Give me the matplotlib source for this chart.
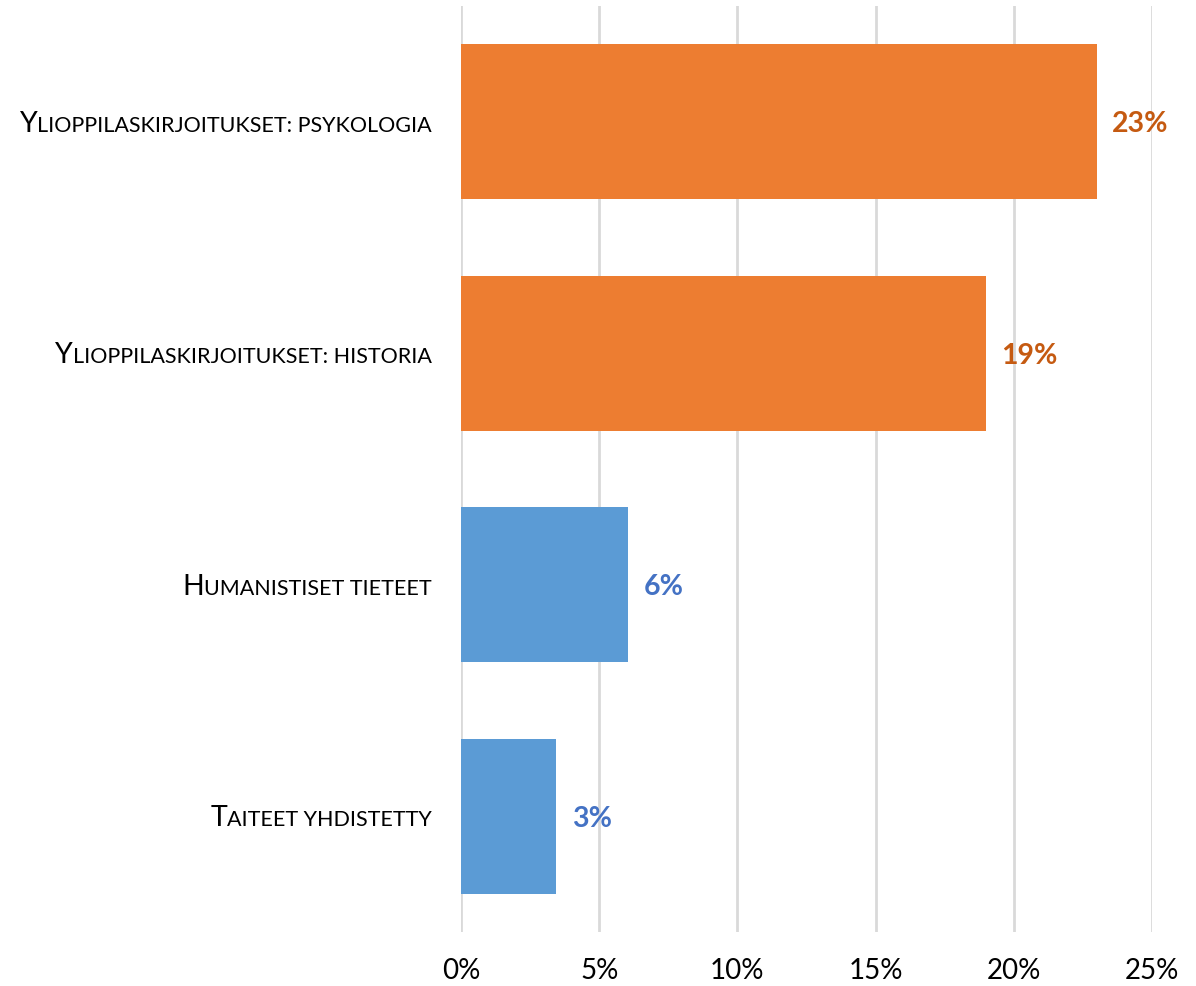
import matplotlib
matplotlib.use("Agg")
import matplotlib.pyplot as plt
import matplotlib.transforms as mtransforms
from matplotlib.ticker import FuncFormatter

categories = ["Ylioppilaskirjoitukset: psykologia",
              "Ylioppilaskirjoitukset: historia",
              "Humanistiset tieteet",
              "Taiteet yhdistetty"]
values = [23.0, 19.0, 6.05, 3.45]
value_labels = ["23%", "19%", "6%", "3%"]
bar_colors = ["#ED7D31", "#ED7D31", "#5B9BD5", "#5B9BD5"]
label_colors = ["#C55A11", "#C55A11", "#4472C4", "#4472C4"]
xticks = [0, 5, 10, 15, 20, 25]

FONT = "Lato"
W, H = 1196, 987
fig = plt.figure(figsize=(W / 100, H / 100), dpi=100)
ax = fig.add_axes([461 / W, 1 - 933 / H, (1152 - 461) / W, (933 - 7) / H])

ypos = list(range(len(categories)))
ax.barh(ypos, values, height=0.67, color=bar_colors, zorder=3)
ax.set_ylim(len(categories) - 0.5, -0.5)
ax.set_xlim(0, 25)
ax.set_xticks(xticks)
ax.xaxis.set_major_formatter(FuncFormatter(lambda v, p: f"{int(v)}%"))
ax.tick_params(axis="x", length=0, pad=18, labelsize=20, labelcolor="#000000")
for lab in ax.get_xticklabels():
    lab.set_fontfamily(FONT)
ax.set_yticks([])
for s in ax.spines.values():
    s.set_visible(False)
ax.grid(axis="x", color="#D9D9D9", linewidth=2, zorder=0)
ax.set_axisbelow(True)

# value labels
for i, (v, t, c) in enumerate(zip(values, value_labels, label_colors)):
    ax.annotate(t, xy=(v, i), xytext=(11, -1), textcoords="offset points",
                ha="left", va="center", fontsize=20.5, fontweight="bold",
                color=c, family=FONT, zorder=4)

# small-caps category labels
renderer = fig.canvas.get_renderer()
blend = mtransforms.blended_transform_factory(ax.transAxes, ax.transData)
big, small = 20.5, 15.5
right_px = -29
for i, cat in enumerate(categories):
    pieces = []
    cur = ""
    cur_big = None
    for ch in cat:
        is_big = ch.isupper()
        if cur_big is None or is_big == cur_big:
            cur += ch
            cur_big = is_big
        else:
            pieces.append((cur, cur_big))
            cur = ch
            cur_big = is_big
    pieces.append((cur, cur_big))
    texts = []
    widths = []
    for s, b in pieces:
        t = ax.text(0, i, s.upper(), fontsize=big if b else small, family=FONT,
                    ha="left", va="baseline", color="#000000", transform=blend)
        texts.append(t)
        widths.append(t.get_window_extent(renderer).width)
    total = sum(widths)
    x = right_px - total
    for t, w in zip(texts, widths):
        t.set_transform(mtransforms.offset_copy(blend, fig=fig, x=x * 72 / 100,
                                                y=-9 * 72 / 100, units="points"))
        x += w

fig.savefig("out.png", dpi=100)
